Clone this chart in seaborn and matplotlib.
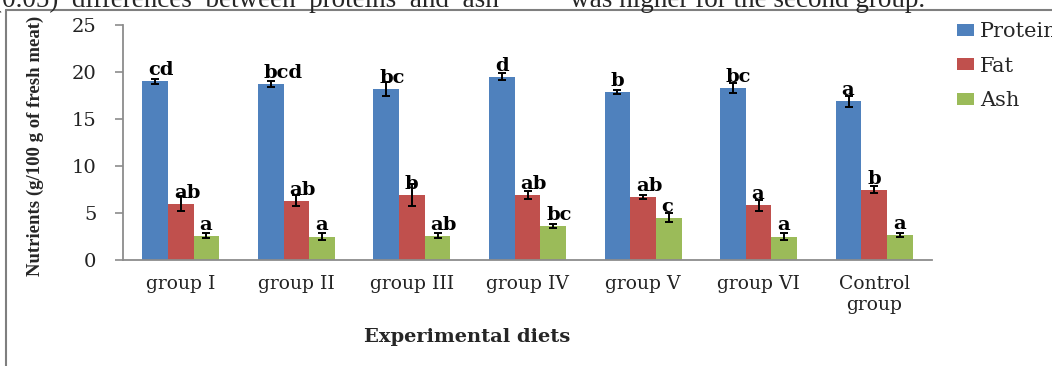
import pandas as pd
import seaborn as sns
import matplotlib.pyplot as plt
from matplotlib.lines import Line2D

sns.set_style("white")
plt.rcParams['font.family'] = ['DejaVu Serif']

groups = ["group I", "group II", "group III", "group IV", "group V",
          "group VI", "Control\ngroup"]
nutrients = ["Protein", "Fat", "Ash"]
protein = [19.0, 18.7, 18.2, 19.5, 17.9, 18.3, 16.9]
fat = [6.0, 6.3, 6.9, 6.9, 6.7, 5.8, 7.5]
ash = [2.6, 2.5, 2.6, 3.6, 4.5, 2.5, 2.7]
protein_err = [0.3, 0.3, 0.7, 0.4, 0.2, 0.5, 0.6]
fat_err = [0.8, 0.6, 1.2, 0.4, 0.2, 0.6, 0.4]
ash_err = [0.3, 0.4, 0.3, 0.2, 0.5, 0.4, 0.2]
protein_sig = ["cd", "bcd", "bc", "d", "b", "bc", "a"]
fat_sig = ["ab", "ab", "b", "ab", "ab", "a", "b"]
ash_sig = ["a", "a", "ab", "bc", "c", "a", "a"]
colors = {"Protein": "#4F81BD", "Fat": "#C0504D", "Ash": "#9BBB59"}

values = {"Protein": protein, "Fat": fat, "Ash": ash}
errors = {"Protein": protein_err, "Fat": fat_err, "Ash": ash_err}
letters = {"Protein": protein_sig, "Fat": fat_sig, "Ash": ash_sig}

rows = []
for n in nutrients:
    for g, v in zip(groups, values[n]):
        rows.append({"group": g, "nutrient": n, "value": v})
df = pd.DataFrame(rows)

W, H = 1052, 366
fig = plt.figure(figsize=(W / 100, H / 100), dpi=100)
ax = fig.add_axes([123 / W, 1 - 260 / H, (932 - 123) / W, (260 - 25) / H])

sns.barplot(data=df, x="group", y="value", hue="nutrient",
            order=groups, hue_order=nutrients, palette=colors,
            width=0.666, errorbar=None, saturation=1, linewidth=0, ax=ax)

for n, cont in zip(nutrients, ax.containers):
    xs = [p.get_x() + p.get_width() / 2 for p in cont.patches]
    ax.errorbar(xs, values[n], yerr=errors[n], fmt="none", ecolor="black",
                elinewidth=1.4, capsize=3, capthick=1.4, zorder=4)
    for x, v, s in zip(xs, values[n], letters[n]):
        ax.annotate(s, (x, v), xytext=(-7, 2), textcoords="offset pixels",
                    ha="left", va="bottom", fontsize=14, fontweight="bold",
                    color="black", zorder=5)

ax.set_xlim(-0.5, len(groups) - 0.5)
ax.set_ylim(0, 25)
ax.set_yticks(range(0, 26, 5))
ax.set_xlabel("")
ax.set_ylabel("")
ax.set_xticks(range(len(groups)))
ax.set_xticks([i - 0.5 for i in range(len(groups) + 1)], minor=True)
ax.tick_params(axis="x", which="major", length=0, pad=11, labelsize=13.5,
               labelcolor="#222222")
ax.tick_params(axis="x", which="minor", length=5, width=1.2, color="#8c8c8c",
               direction="out")
ax.tick_params(axis="y", length=6, width=1.2, color="#8c8c8c", pad=13,
               labelsize=14, labelcolor="#222222", left=True)
for side in ["top", "right"]:
    ax.spines[side].set_visible(False)
for side in ["left", "bottom"]:
    ax.spines[side].set_color("#8c8c8c")
    ax.spines[side].set_linewidth(1.3)

handles, labels = ax.get_legend_handles_labels()
ax.legend(handles, labels, loc="upper left",
          bbox_to_anchor=(957 / W, 1 - 22 / H), bbox_transform=fig.transFigure,
          frameon=False, fontsize=15, handlelength=0.8, handleheight=0.5,
          handletextpad=0.3, labelspacing=0.75, borderpad=0, borderaxespad=0)

fig.text(35 / W, 1 - 146 / H, "Nutrients (g/100 g of fresh meat)",
         rotation=90, ha="center", va="center", fontsize=13.5,
         fontweight="bold", family="Liberation Serif")
fig.text(467 / W, 1 - 337 / H, "Experimental diets", ha="center",
         va="center", fontsize=14, fontweight="bold")

# text of the page above the chart, cut by the crop
fig.text(-7 / W, 1 - 7 / H, "(0.05)  differences  between  proteins  and  ash",
         ha="left", va="baseline", fontsize=19.5, family="Liberation Serif")
fig.text(570 / W, 1 - 7 / H, "was higher for the second group.",
         ha="left", va="baseline", fontsize=19.5, family="Liberation Serif")

# chart border (only left and top edges are inside the crop)
fig.add_artist(Line2D([6 / W, 6 / W], [0, 1 - 10 / H],
                      transform=fig.transFigure, color="#7f7f7f", lw=1.5))
fig.add_artist(Line2D([6 / W, 1], [1 - 10 / H, 1 - 10 / H],
                      transform=fig.transFigure, color="#7f7f7f", lw=1.5))

fig.savefig("out.png", dpi=100)
